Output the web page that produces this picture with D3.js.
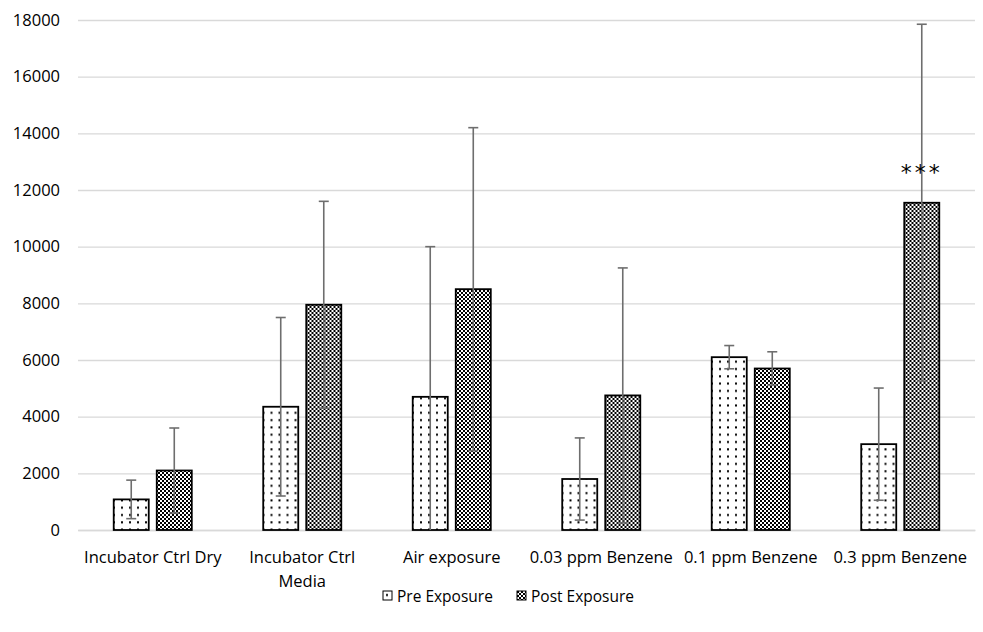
<!DOCTYPE html>
<html>
<head>
<meta charset="utf-8">
<script src="https://cdn.jsdelivr.net/npm/d3@7"></script>
<style>
  body { margin: 0; background: #fff; }
  svg { display: block; }
  text { font-family: "Open Sans", "Noto Sans", sans-serif; fill: #000; }
</style>
</head>
<body>
<svg id="chart" width="983" height="632"></svg>
<script>
const categories = ["Incubator Ctrl Dry", "Incubator Ctrl Media", "Air exposure", "0.03 ppm Benzene", "0.1 ppm Benzene", "0.3 ppm Benzene"];
const categoryLines = [["Incubator Ctrl Dry"], ["Incubator Ctrl", "Media"], ["Air exposure"], ["0.03 ppm Benzene"], ["0.1 ppm Benzene"], ["0.3 ppm Benzene"]];
const seriesNames = ["Pre Exposure", "Post Exposure"];
const preValues = [1080, 4350, 4700, 1800, 6100, 3030];
const preErrors = [680, 3150, 5300, 1450, 410, 1980];
const postValues = [2100, 7950, 8500, 4750, 5700, 11550];
const postErrors = [1500, 3650, 5700, 4500, 590, 6300];
const yTicks = [0, 2000, 4000, 6000, 8000, 10000, 12000, 14000, 16000, 18000];
const significance = [null, null, null, null, null, "***"];

const svg = d3.select("#chart");
const margin = {left: 78, right: 8, top: 20, bottom: 102};
const W = 983, H = 632;
const x0 = d3.scaleBand().domain(categories).range([margin.left, W - margin.right]).paddingInner(0).paddingOuter(0);
const x1 = d3.scaleBand().domain(seriesNames).range([0, x0.bandwidth()]).paddingInner(0.186).paddingOuter(0.83);
const y = d3.scaleLinear().domain([0, 18000]).range([H - margin.bottom, margin.top]);

const defs = svg.append("defs");
const dots = defs.append("pattern").attr("id", "dots").attr("patternUnits", "userSpaceOnUse")
  .attr("width", 8).attr("height", 7.3);
dots.append("rect").attr("width", 8).attr("height", 7.3).attr("fill", "#fff");
dots.append("rect").attr("x", 3).attr("y", 3).attr("width", 2).attr("height", 2).attr("fill", "#000");
const checker = defs.append("pattern").attr("id", "checker").attr("patternUnits", "userSpaceOnUse")
  .attr("width", 4).attr("height", 4);
checker.append("rect").attr("width", 4).attr("height", 4).attr("fill", "#fff");
checker.append("rect").attr("x", 0).attr("y", 0).attr("width", 2).attr("height", 2).attr("fill", "#000");
checker.append("rect").attr("x", 2).attr("y", 2).attr("width", 2).attr("height", 2).attr("fill", "#000");
const fills = {"Pre Exposure": "url(#dots)", "Post Exposure": "url(#checker)"};

// gridlines
const yAxis = d3.axisLeft(y).tickValues(yTicks).tickFormat(d3.format("d"))
  .tickSize(-(W - margin.left - margin.right)).tickPadding(18);
const gy = svg.append("g").attr("transform", `translate(${margin.left},0)`).call(yAxis);
gy.select(".domain").remove();
gy.selectAll(".tick line").attr("stroke", "#d9d9d9").attr("stroke-width", 1.3);
gy.selectAll(".tick text").attr("font-size", 16.5).attr("fill", "#000")
  .style("font-family", "'Open Sans', sans-serif");

// x axis
const xAxis = d3.axisBottom(x0).tickSize(0).tickFormat("");
const gx = svg.append("g").attr("transform", `translate(0,${y(0)})`).call(xAxis);
gx.select(".domain").attr("stroke", "#d9d9d9").attr("stroke-width", 1.3);
gx.selectAll(".tick").each(function(d, i) {
  const t = d3.select(this).append("text").attr("font-size", 16.5).attr("text-anchor", "middle").attr("fill", "#000");
  categoryLines[i].forEach((ln, j) => {
    t.append("tspan").attr("x", 0).attr("y", 33 + j * 24).text(ln);
  });
});

const data = categories.map((c, i) => ({
  cat: c,
  series: [
    {name: "Pre Exposure", v: preValues[i], e: preErrors[i]},
    {name: "Post Exposure", v: postValues[i], e: postErrors[i]}
  ],
  sig: significance[i]
}));

const groups = svg.append("g").selectAll("g").data(data).join("g")
  .attr("transform", d => `translate(${x0(d.cat)},0)`);

groups.selectAll("rect.bar").data(d => d.series).join("rect").attr("class", "bar")
  .attr("x", d => x1(d.name)).attr("width", x1.bandwidth())
  .attr("y", d => y(d.v)).attr("height", d => y(0) - y(d.v))
  .attr("fill", d => fills[d.name]).attr("stroke", "#000").attr("stroke-width", 1.8);

const capW = 5;
const eb = groups.selectAll("g.err").data(d => d.series).join("g").attr("class", "err")
  .attr("stroke", "#6e6e6e").attr("stroke-width", 1.6);
eb.append("line")
  .attr("x1", d => x1(d.name) + x1.bandwidth() / 2).attr("x2", d => x1(d.name) + x1.bandwidth() / 2)
  .attr("y1", d => y(d.v + d.e)).attr("y2", d => y(Math.max(0, d.v - d.e)));
eb.append("line")
  .attr("x1", d => x1(d.name) + x1.bandwidth() / 2 - capW).attr("x2", d => x1(d.name) + x1.bandwidth() / 2 + capW)
  .attr("y1", d => y(d.v + d.e)).attr("y2", d => y(d.v + d.e));
eb.filter(d => d.v - d.e > 0).append("line")
  .attr("x1", d => x1(d.name) + x1.bandwidth() / 2 - capW).attr("x2", d => x1(d.name) + x1.bandwidth() / 2 + capW)
  .attr("y1", d => y(d.v - d.e)).attr("y2", d => y(d.v - d.e));

groups.filter(d => d.sig).append("text")
  .attr("x", x1("Post Exposure") + x1.bandwidth() / 2)
  .attr("y", d => y(d.series[1].v) - 23)
  .attr("text-anchor", "middle").attr("font-size", 22).attr("fill", "#404040")
  .style("font-family", "'DejaVu Sans', sans-serif").style("letter-spacing", "3px")
  .text(d => d.sig);

// legend
const legend = svg.append("g").attr("transform", `translate(0,591)`);
const legendX = [383, 517];
seriesNames.forEach((s, i) => {
  const g = legend.append("g").attr("transform", `translate(${legendX[i]},0)`);
  g.append("rect").attr("x", 0).attr("y", 0).attr("width", 9).attr("height", 9)
    .attr("fill", fills[s]).attr("stroke", "#000").attr("stroke-width", 1);
  g.append("text").attr("x", 14).attr("y", 11).attr("font-size", 15.5).attr("fill", "#262626").text(s);
});
</script>
</body>
</html>
